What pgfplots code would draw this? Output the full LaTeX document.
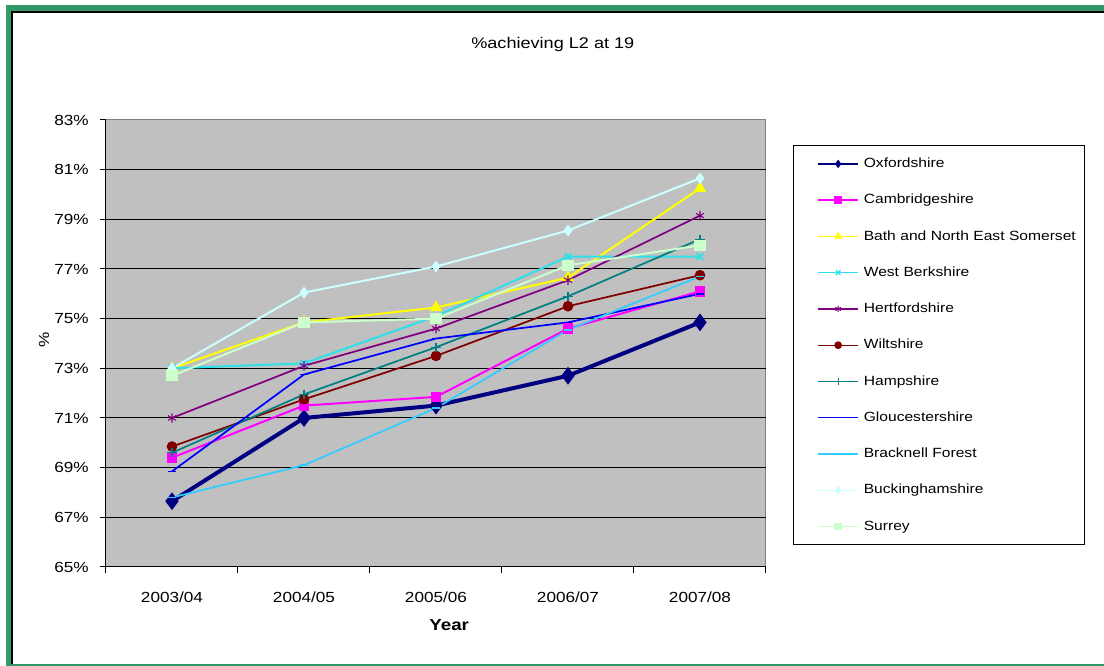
\documentclass[border=0pt]{standalone}
\usepackage{pgfplots}
\pgfplotsset{compat=1.18}
\usepackage{fontspec}
\setmainfont{Liberation Sans}[FakeStretch=1.17]
\definecolor{frameg}{HTML}{339966}
\definecolor{bggray}{HTML}{C0C0C0}
\definecolor{bordgray}{HTML}{808080}
\definecolor{coxf}{HTML}{000080}
\definecolor{ccamb}{HTML}{FF00FF}
\definecolor{cbath}{HTML}{FFFF00}
\definecolor{cwberk}{HTML}{2EE0EA}
\definecolor{cherts}{HTML}{800080}
\definecolor{cwilts}{HTML}{800000}
\definecolor{chants}{HTML}{008080}
\definecolor{cglos}{HTML}{0000FF}
\definecolor{cbrack}{HTML}{33CCFF}
\definecolor{cbucks}{HTML}{CCFFFF}
\definecolor{csurrey}{HTML}{CCFFCC}
\begin{document}
\begin{tikzpicture}
\begin{scope}[x=0.75pt,y=0.75pt]
\fill[white] (0,0) rectangle (1104,666);
\useasboundingbox (0,0) rectangle (1104,666);
\fill[frameg] (6,0) rectangle (11,661);
\fill[frameg] (6,655) rectangle (1104,661);
\fill[black] (11,0) rectangle (13,655);
\fill[black] (11,653) rectangle (1104,655);
\fill[frameg] (11,0) rectangle (1104,1.5);
\end{scope}
\begin{axis}[
  at={(79.5pt,74.25pt)}, anchor=south west,
  scale only axis, width=495pt, height=335.25pt,
  xmin=-0.5, xmax=4.5, ymin=65, ymax=83,
  axis background/.style={fill=bggray, draw=bordgray, line width=0.75pt},
  axis x line*=bottom, axis y line*=left,
  axis line style={black, line width=0.75pt, -},
  tick align=outside,
  major tick length=4.5pt, minor tick length=4.5pt,
  tick style={black, line width=0.75pt},
  xtick={0,1,2,3,4},
  xticklabels={2003/04,2004/05,2005/06,2006/07,2007/08},
  minor xtick={-0.5,0.5,1.5,2.5,3.5,4.5},
  major x tick style={draw=none},
  ytick={65,67,69,71,73,75,77,79,81},
  yticklabels={65\%,67\%,69\%,71\%,73\%,75\%,77\%,79\%,81\%},
  extra y ticks={83}, extra y tick labels={83\%},
  extra y tick style={grid=none},
  ymajorgrids, grid style={black, line width=0.75pt},
  /pgf/number format/assume math mode=true,
  ticklabel style={font=\fontsize{11}{13}\selectfont},
  xticklabel style={yshift=-11pt},
  yticklabel style={xshift=-5pt},
  title={\%achieving L2 at 19},
  title style={font=\fontsize{11.6}{14}\selectfont, at={(axis description cs:0.677,1.152)}, anchor=center},
  xlabel={Year},
  xlabel style={font=\bfseries\fontsize{12}{14}\selectfont, at={(axis description cs:0.52,-0.13)}, anchor=center},
  ylabel={\%},
  ylabel style={font=\fontsize{11}{13}\selectfont, at={(axis description cs:-0.094,0.508)}, anchor=center},
  legend cell align=left,
  legend image code/.code={\path (0pt,0pt); \draw[mark repeat=2,mark phase=2] plot coordinates {(18pt,0pt)(33pt,0pt)(48pt,0pt)};},
  legend image post style={line width=1pt, mark size=2.4pt},
  legend style={at={(axis description cs:1.0409,0.944)}, anchor=north west,
    draw=black, line width=0.75pt, fill=white,
    inner xsep=0pt, inner ysep=9pt, row sep=17.7pt, column sep=3.75pt,
    font=\fontsize{10}{12}\selectfont,
    nodes={inner sep=0pt, text height=7.5pt, text depth=2pt, text width=165.75pt, align=left}},
]
\addplot[coxf, line width=3pt, mark=diamond*, mark size=4.2pt] coordinates {(0,67.65)(1,71.0)(2,71.5)(3,72.7)(4,74.85)};
\addlegendentry{Oxfordshire}
\addplot[ccamb, line width=1.5pt, mark=square*, mark size=3.2pt] coordinates {(0,69.4)(1,71.5)(2,71.85)(3,74.6)(4,76.1)};
\addlegendentry{Cambridgeshire}
\addplot[cbath, line width=1.5pt, mark=triangle*, mark size=3.8pt] coordinates {(0,73.0)(1,74.85)(2,75.45)(3,76.65)(4,80.25)};
\addlegendentry{Bath and North East Somerset}
\addplot[cwberk, line width=1.5pt, mark=x, mark size=3.5pt] coordinates {(0,73.0)(1,73.2)(2,75.1)(3,77.5)(4,77.5)};
\addlegendentry{West Berkshire}
\addplot[cherts, line width=1.3pt, mark=asterisk, mark size=3.5pt, mark options={line width=0.8pt}] coordinates {(0,71.0)(1,73.1)(2,74.6)(3,76.55)(4,79.15)};
\addlegendentry{Hertfordshire}
\addplot[cwilts, line width=1.3pt, mark=*, mark size=3.3pt] coordinates {(0,69.85)(1,71.75)(2,73.5)(3,75.5)(4,76.75)};
\addlegendentry{Wiltshire}
\addplot[chants, line width=1.3pt, mark=+, mark size=3.5pt, mark options={line width=0.8pt}] coordinates {(0,69.6)(1,71.95)(2,73.85)(3,75.9)(4,78.2)};
\addlegendentry{Hampshire}
\addplot[cglos, line width=1.3pt, mark=-, mark size=3pt] coordinates {(0,68.85)(1,72.75)(2,74.2)(3,74.85)(4,76.0)};
\addlegendentry{Gloucestershire}
\addplot[cbrack, line width=1.3pt, mark=-, mark size=3pt] coordinates {(0,67.8)(1,69.1)(2,71.4)(3,74.55)(4,76.7)};
\addlegendentry{Bracknell Forest}
\addplot[cbucks, line width=1.5pt, mark=diamond*, mark size=3.2pt] coordinates {(0,73.0)(1,76.05)(2,77.1)(3,78.55)(4,80.65)};
\addlegendentry{Buckinghamshire}
\addplot[csurrey, line width=1.5pt, mark=square*, mark size=3.5pt] coordinates {(0,72.7)(1,74.85)(2,75.0)(3,77.15)(4,77.95)};
\addlegendentry{Surrey}
\end{axis}
\end{tikzpicture}
\end{document}
